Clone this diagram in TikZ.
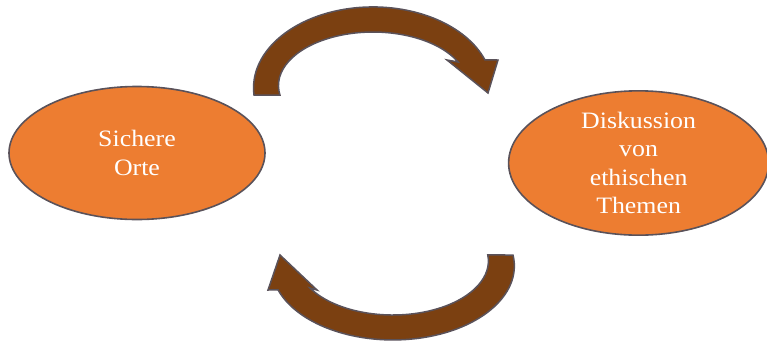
\documentclass[tikz,border=0pt]{standalone}
\usepackage{fontspec}
\usepackage{tikz}
\usetikzlibrary{positioning, shapes.geometric}
\newfontfamily\ortfont{Liberation Serif}[FakeStretch=1.1]
\definecolor{ortorange}{RGB}{237,125,49}
\definecolor{randgrau}{RGB}{90,82,90}
\definecolor{bogenbraun}{RGB}{123,64,17}

\begin{document}
\begin{tikzpicture}[x=1pt, y=-1pt,
    ort/.style={ellipse, draw=randgrau, line width=1.6pt, fill=ortorange, text=white,
      align=center, inner sep=0pt, font=\ortfont\fontsize{23.5}{28.5}\selectfont},
    bogen/.style={draw=randgrau, line width=1.5pt, fill=bogenbraun, line join=miter}]
  \useasboundingbox (0,0) rectangle (767,343);
  \node[ort, minimum width=256pt, minimum height=133pt] (sichere) at (137,153) {Sichere\\Orte};
  \node[ort, minimum width=260pt, minimum height=138pt, right=242pt of sichere, yshift=-10pt]
    (diskussion) {Diskussion\\von\\ethischen\\Themen};
  % oberer Bogen nach rechts
  \draw[bogen] (254,95) arc[start angle=175, end angle=339.8, x radius=119.4, y radius=81]
    -- (498,60) -- (488,93) -- (447,60) -- (458,62)
    arc[start angle=333.9, end angle=169.8, x radius=94.6, y radius=53.5] -- cycle;
  % unterer Bogen nach links
  \draw[bogen] (513,255) arc[start angle=-8.5, end angle=161.1, x radius=121.4, y radius=74]
    -- (268,290) -- (280,255) -- (317,290) -- (310,288)
    arc[start angle=150, end angle=-6.4, x radius=95.6, y radius=54] -- cycle;
\end{tikzpicture}
\end{document}
